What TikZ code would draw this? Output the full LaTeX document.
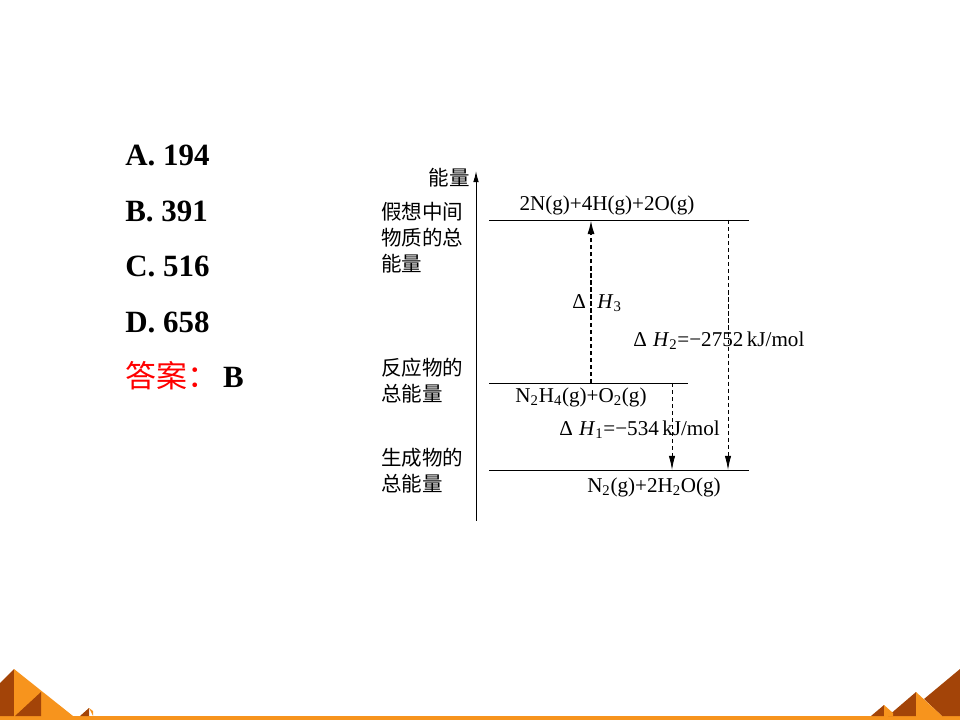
\documentclass[tikz,border=0pt]{standalone}
\usepackage{fontspec}
\setmainfont{Liberation Serif}
\newfontfamily\cjk{Noto Sans CJK SC}
\usetikzlibrary{arrows.meta}
\definecolor{pyrdark}{RGB}{163,68,8}
\definecolor{pyrlight}{RGB}{247,148,29}
\begin{document}
\begin{tikzpicture}[x=0.025cm,y=-0.025cm,
  level/.style={line width=0.7pt},
  jump/.style={densely dashed,line width=0.6pt,-{Latex[length=10pt,width=4.5pt]}},
  jumpbold/.style={dash pattern=on 3pt off 2pt,line width=1.3pt,-{Latex[length=10pt,width=5pt]}},
  option/.style={anchor=base west,inner sep=0pt,font=\fontsize{22}{26}\selectfont\bfseries},
  zh/.style={anchor=west,inner sep=0pt,align=left,font=\cjk\fontsize{14.6}{18.5}\selectfont},
  chem/.style={inner sep=0pt,font=\fontsize{15}{18}\selectfont}]
  \useasboundingbox (0,0) rectangle (960,720);
  % answer options
  \node[option] (optA) at (125,166) {A. 194};
  \node[option] (optB) at (125,221.5) {B. 391};
  \node[option] (optC) at (125,277) {C. 516};
  \node[option] (optD) at (125,332.5) {D. 658};
  \node[option] (ans) at (125,388) {{\cjk\mdseries\color{red}答案：}\,B};
  % energy axis
  \coordinate (O) at (476,521);
  \coordinate (E) at (476,171);
  \draw[line width=0.7pt,-{Latex[length=8pt,width=4pt]}] (O) -- (E);
  \node[anchor=east,inner sep=0pt,font=\cjk\fontsize{14.6}{18}\selectfont] (ylab) at (470,178) {能量};
  % energy levels
  \coordinate (T1) at (489,220);
  \coordinate (T2) at (749,220);
  \coordinate (M1) at (489,383);
  \coordinate (M2) at (688,383);
  \coordinate (B1) at (489,470);
  \coordinate (B2) at (749,470);
  \draw[level] (T1) -- (T2);
  \draw[level] (M1) -- (M2);
  \draw[level] (B1) -- (B2);
  \node[zh] (zhT) at (381,238) {假想中间\\物质的总\\能量};
  \node[zh] (zhM) at (381,381) {反应物的\\总能量};
  \node[zh] (zhB) at (381,471) {生成物的\\总能量};
  \node[chem] (atoms) at (607,205) {2N(g)+4H(g)+2O(g)};
  \node[chem] (react) at (581,397) {N\textsubscript{2}H\textsubscript{4}(g)+O\textsubscript{2}(g)};
  \node[chem] (prod) at (654,487) {N\textsubscript{2}(g)+2H\textsubscript{2}O(g)};
  % enthalpy changes
  \coordinate (h3s) at (591,383);
  \coordinate (h3e) at (591,220);
  \coordinate (h2s) at (728,220);
  \coordinate (h2e) at (728,470);
  \coordinate (h1s) at (672,383);
  \coordinate (h1e) at (672,470);
  \draw[jumpbold] (h3s) -- (h3e);
  \draw[jump] (h2s) -- (h2e);
  \draw[jump] (h1s) -- (h1e);
  \node[chem,anchor=west] (dH3) at (572,303) {Δ\hspace{0.55em}\textit{H}\textsubscript{3}};
  \node[chem,anchor=west] (dH2) at (633,341) {Δ\hspace{0.3em}\textit{H}\textsubscript{2}=−2752\,kJ/mol};
  \node[chem,anchor=west] (dH1) at (559,430) {Δ\hspace{0.3em}\textit{H}\textsubscript{1}=−534\,kJ/mol};
  % footer pyramids
  \fill[pyrlight] (0,716) rectangle (960,720);
  \fill[pyrdark] (0,683) -- (14,669) -- (14,716) -- (0,716) -- cycle;
  \fill[pyrlight] (14,669) -- (73,716) -- (14,716) -- cycle;
  \fill[pyrdark] (15,716) -- (41,692) -- (41,716) -- cycle;
  \fill[pyrdark] (80,716) -- (89,708) -- (89,716) -- cycle;
  \fill[pyrlight] (89,708) -- (93,711) -- (93,716) -- cycle;
  \fill[pyrdark] (924,699) -- (960,669) -- (960,716) -- (942,716) -- cycle;
  \fill[pyrdark] (888,716) -- (916,692) -- (916,716) -- cycle;
  \fill[pyrlight] (916,692) -- (942,716) -- (916,716) -- cycle;
  \fill[pyrdark] (871,716) -- (884,705) -- (884,716) -- cycle;
  \fill[pyrlight] (884,705) -- (893,713) -- (893,716) -- (884,716) -- cycle;
\end{tikzpicture}
\end{document}
